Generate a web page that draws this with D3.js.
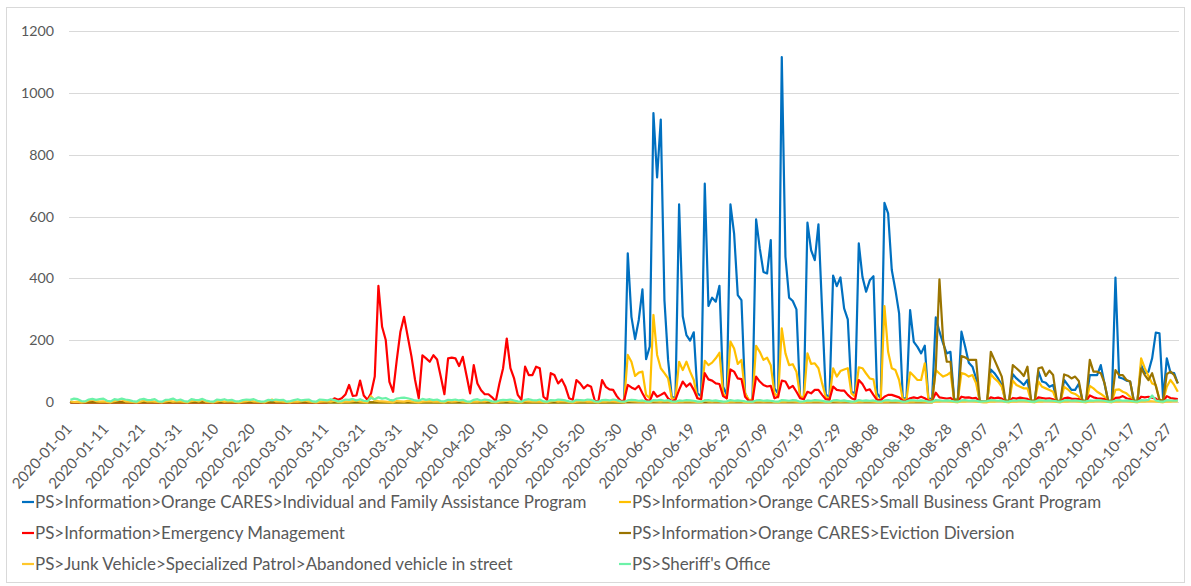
<!DOCTYPE html>
<html>
<head>
<meta charset="utf-8">
<script src="https://cdn.jsdelivr.net/npm/d3@7"></script>
<style>
  body { margin: 0; background: #fff; }
  text { font-family: Lato, "Open Sans", sans-serif; fill: #595959; }
</style>
</head>
<body>
<script>
function zeros(n) { var a = []; for (var i = 0; i < n; i++) a.push(0); return a; }

// daily categories 2020-01-01 .. 2020-10-29
var days = d3.timeDay.range(new Date(2020, 0, 1), new Date(2020, 9, 30));
var yTicks = [0, 200, 400, 600, 800, 1000, 1200];

var seriesNames = [
  "PS>Information>Orange CARES>Individual and Family Assistance Program",
  "PS>Information>Orange CARES>Small Business Grant Program",
  "PS>Information>Emergency Management",
  "PS>Information>Orange CARES>Eviction Diversion",
  "PS>Junk Vehicle>Specialized Patrol>Abandoned vehicle in street",
  "PS>Sheriff's Office"
];
var seriesColors = ["#0070C0", "#FFC000", "#FF0000", "#9A7400", "#FFC72C", "#6CF2A8"];

// Individual and Family Assistance (starts 2020-06-01)
var ifap = zeros(152).concat([
  481, 276, 204, 266, 365, 139, 180, 934, 726, 913, 330, 137, 18, 13,
  639, 278, 217, 199, 226, 29, 20, 706, 311, 338, 325, 376, 50, 24,
  639, 545, 346, 330, 29, 5, 5, 591, 497, 421, 416, 524, 45, 29,
  1115, 470, 338, 327, 300, 18, 10, 580, 491, 459, 575, 298, 27, 11,
  409, 375, 403, 303, 268, 34, 29, 513, 405, 357, 394, 407, 29, 13,
  644, 610, 427, 362, 287, 13, 13, 298, 195, 179, 158, 183, 10, 13,
  274, 228, 190, 158, 163, 10, 7, 228, 180, 128, 115, 77, 2, 2,
  2, 106, 94, 77, 56, 5, 5, 91, 77, 67, 56, 72, 5, 5,
  99, 67, 63, 50, 56, 5, 2, 72, 56, 40, 40, 60, 5, 5,
  88, 88, 88, 120, 61, 5, 5, 403, 80, 77, 70, 67, 5, 5,
  120, 94, 99, 142, 225, 223, 10, 142, 96, 94, 61
]);

// Small Business Grant
var sbg = zeros(152).concat([
  153, 131, 85, 96, 99, 24, 13, 282, 153, 110, 94, 77, 13, 10,
  131, 104, 131, 99, 72, 13, 10, 134, 120, 128, 142, 160, 29, 13,
  196, 174, 124, 137, 29, 8, 8, 182, 163, 137, 144, 120, 29, 16,
  239, 158, 120, 123, 99, 20, 13, 158, 124, 126, 110, 61, 18, 10,
  110, 83, 101, 106, 110, 29, 18, 113, 110, 93, 77, 74, 10, 7,
  311, 163, 110, 104, 72, 10, 7, 97, 85, 72, 72, 126, 7, 7,
  104, 93, 83, 88, 97, 7, 7, 94, 91, 83, 88, 61, 3, 3,
  3, 91, 77, 67, 50, 5, 5, 70, 56, 50, 45, 45, 5, 5,
  67, 50, 45, 40, 34, 3, 3, 50, 42, 31, 27, 18, 3, 3,
  53, 45, 34, 27, 18, 3, 3, 40, 42, 34, 29, 18, 3, 3,
  142, 110, 85, 61, 56, 8, 5, 50, 72, 56, 34
]);

// Emergency Management (starts 2020-03-12)
var emergency = zeros(71).concat([
  3, 13, 8, 13, 25, 56, 21, 22, 70, 22, 8, 29, 83, 376,
  244, 201, 66, 34, 136, 228, 276, 212, 149, 72, 13, 152, 142, 131,
  152, 138, 83, 26, 142, 144, 142, 117, 147, 88, 29, 120, 61, 39,
  26, 26, 16, 3, 61, 110, 206, 110, 77, 24, 8, 115, 88, 88,
  115, 110, 18, 8, 94, 88, 61, 74, 50, 13, 8, 72, 61, 45,
  56, 50, 5, 4, 72, 50, 42, 40, 20, 5, 5, 56, 48, 42,
  53, 29, 8, 4, 34, 18, 24, 31, 13, 4, 8, 40, 67, 51,
  61, 40, 13, 10, 94, 74, 70, 61, 59, 20, 13, 106, 99, 77,
  75, 18, 5, 5, 83, 67, 56, 51, 53, 13, 18, 70, 67, 45,
  53, 34, 13, 10, 34, 29, 40, 40, 24, 10, 8, 51, 40, 38,
  38, 24, 13, 8, 72, 59, 38, 42, 24, 7, 7, 18, 24, 24,
  20, 16, 5, 5, 13, 16, 13, 18, 13, 5, 5, 31, 16, 14,
  12, 14, 5, 4, 18, 15, 16, 13, 14, 3, 3, 3, 16, 13,
  15, 12, 4, 3, 14, 12, 15, 13, 11, 3, 3, 16, 14, 12,
  13, 10, 3, 3, 13, 15, 12, 11, 10, 3, 3, 22, 16, 13,
  12, 10, 3, 3, 14, 15, 20, 13, 10, 3, 3, 18, 16, 18,
  15, 12, 3, 3, 20, 14, 12, 10
]);

// Eviction Diversion (starts 2020-08-24)
var eviction = zeros(236).concat([
  110, 397, 201, 131, 131, 10, 7, 149, 145, 137, 137, 137, 2, 2,
  2, 163, 137, 110, 83, 5, 5, 120, 110, 99, 85, 115, 5, 5,
  110, 113, 85, 102, 88, 5, 5, 90, 86, 77, 83, 69, 5, 5,
  137, 99, 99, 94, 63, 5, 5, 104, 88, 88, 72, 67, 5, 5,
  110, 88, 72, 94, 53, 8, 5, 91, 99, 88, 61
]);

// Junk Vehicle > Abandoned vehicle in street
var junk = [
  3, 1, 2, 0, 1, 6, 8, 4, 2, 3,  1, 0, 4, 7, 9, 3, 2, 1, 0, 2,
  6, 3, 4, 2, 1, 0, 3, 5, 2, 4,  3, 1, 0, 4, 6, 3, 8, 2, 1, 0,
  3, 5, 2, 4, 3, 1, 0, 2, 4, 6,  3, 2, 1, 0, 5, 9, 3, 4, 2, 1,
  0, 3, 2, 4, 6, 3, 1, 0, 2, 3,  4, 2, 5, 1, 0, 3, 2, 4, 6, 3,
  1, 0, 20, 6, 4, 3, 2, 1, 0, 4, 3, 2, 5, 3, 1, 0, 2, 3, 4, 2,
  3, 1, 0, 4, 2, 3, 5, 2, 1, 0,  3, 2, 4, 3, 6, 1, 0, 2, 3, 5,
  2, 3, 1, 0, 4, 3, 2, 3, 2, 1,  0, 3, 5, 2, 4, 3, 1, 0, 2, 3,
  4, 2, 3, 1, 0, 3, 2, 4, 3, 2,  1, 0, 5, 4, 3, 2, 3, 1, 0, 4,
  3, 2, 4, 3, 1, 0, 3, 2, 4, 3,  2, 1, 0, 6, 3, 2, 4, 3, 1, 0,
  3, 2, 4, 3, 0, 0, 1, 4, 3, 2,  3, 4, 1, 0, 3, 2, 4, 3, 2, 1,
  0, 3, 2, 4, 3, 2, 1, 0, 4, 3,  2, 3, 4, 1, 0, 3, 2, 4, 3, 2,
  1, 0, 3, 2, 4, 3, 2, 1, 0, 3,  2, 4, 3, 2, 1, 0, 3, 2, 4, 3,
  2, 1, 0, 3, 2, 4, 3, 2, 1, 0,  0, 3, 2, 4, 3, 1, 0, 3, 2, 4,
  3, 2, 1, 0, 3, 2, 4, 3, 2, 1,  0, 3, 2, 4, 3, 2, 1, 0, 3, 2,
  4, 3, 2, 1, 0, 3, 2, 4, 3, 2,  1, 0, 3, 2, 4, 3, 2, 1, 0, 3,
  2, 4, 3
];

// Sheriff's Office
var sheriff = [
  8, 12, 10, 4, 3, 9, 11, 8, 10, 12,  5, 3, 10, 8, 12, 9, 7, 4, 2, 9,
  11, 7, 8, 10, 3, 2, 8, 9, 12, 6,  9, 4, 2, 10, 8, 7, 11, 6, 3, 2,
  9, 7, 10, 6, 8, 3, 3, 7, 9, 8,  10, 5, 2, 3, 8, 6, 9, 7, 8, 2,
  4, 7, 10, 6, 8, 9, 3, 2, 9, 8,  6, 10, 7, 3, 4, 9, 8, 11, 6, 10,
  5, 4, 14, 10, 16, 12, 14, 8, 6, 12,  14, 15, 13, 10, 6, 5, 11, 8, 10, 7,
  9, 4, 3, 8, 7, 9, 6, 8, 3, 2,  8, 10, 6, 9, 7, 3, 2, 6, 8, 7,
  9, 6, 3, 2, 8, 10, 7, 6, 9, 3,  2, 7, 6, 9, 8, 6, 3, 2, 8, 7,
  6, 9, 8, 3, 2, 7, 8, 6, 9, 7,  3, 2, 6, 8, 7, 5, 6, 3, 2, 7,
  6, 8, 5, 7, 3, 2, 6, 5, 7, 6,  5, 2, 2, 6, 7, 5, 6, 4, 2, 3,
  7, 5, 6, 5, 3, 2, 2, 6, 7, 5,  6, 5, 3, 2, 7, 6, 5, 7, 6, 2,
  3, 6, 5, 7, 6, 5, 2, 2, 6, 7,  5, 6, 4, 2, 3, 7, 5, 6, 5, 6,
  3, 2, 6, 7, 5, 6, 5, 2, 3, 7,  6, 5, 6, 5, 2, 2, 7, 6, 5, 6,
  5, 3, 2, 6, 7, 5, 6, 5, 2, 3,  4, 7, 6, 5, 6, 2, 3, 6, 5, 7,
  6, 5, 2, 2, 7, 6, 5, 6, 5, 3,  2, 6, 7, 5, 6, 5, 2, 3, 6, 5,
  7, 6, 5, 2, 2, 6, 7, 5, 6, 5,  3, 2, 7, 6, 8, 22, 6, 3, 2, 7,
  6, 5, 6
];

var seriesValues = [ifap, sbg, emergency, eviction, junk, sheriff];

var width = 1191, height = 586;
var fmt = d3.timeFormat("%Y-%m-%d");
var labels = days.map(fmt);

var svg = d3.select("body")
  .append("svg")
  .attr("width", width)
  .attr("height", height);

// chart border
svg.append("rect")
  .attr("x", 6.5).attr("y", 7.5)
  .attr("width", 1178).attr("height", 575)
  .attr("fill", "#fff")
  .attr("stroke", "#D9D9D9");

var x = d3.scalePoint().domain(labels).range([70.4, 1177.8]);
var y = d3.scaleLinear().domain([0, 1200]).range([402.3, 30.7]);

// fit a font size so a sample string gets a given pixel width
function fitSize(sel, target) {
  sel.style("font-size", "16px");
  var w = sel.node().getComputedTextLength();
  var s = 16 * target / w;
  sel.style("font-size", s + "px");
}

// gridlines
svg.append("g")
  .selectAll("line")
  .data(yTicks)
  .enter()
  .append("line")
  .attr("x1", 69).attr("x2", 1179)
  .attr("y1", function(d) { return Math.round(y(d)) + 0.5; })
  .attr("y2", function(d) { return Math.round(y(d)) + 0.5; })
  .attr("stroke", "#D9D9D9")
  .attr("stroke-width", 1);

// y axis labels
var yAxis = svg.append("g")
  .attr("transform", "translate(54,0)")
  .call(d3.axisLeft(y).tickValues(yTicks).tickFormat(d3.format("d")).tickSize(0).tickPadding(0));
yAxis.select(".domain").remove();
yAxis.selectAll("text").attr("fill", "#595959");
var yLast = yAxis.selectAll("text").filter(function(d) { return d === 1200; });
fitSize(yLast, 33);
yAxis.selectAll("text").style("font-size", yLast.style("font-size"));

// x axis labels, one every 10 days
var xTickLabels = labels.filter(function(d, i) { return i % 10 === 0; });
var xAxis = svg.append("g")
  .attr("transform", "translate(0,402)")
  .call(d3.axisBottom(x).tickValues(xTickLabels).tickSize(0).tickPadding(0));
xAxis.select(".domain").remove();
var xText = xAxis.selectAll("text")
  .attr("fill", "#595959")
  .attr("text-anchor", "end")
  .attr("y", 0)
  .attr("dy", "0.35em")
  .attr("transform", "translate(-2,24) rotate(-48)");
fitSize(d3.select(xText.node()), 81);
xText.style("font-size", d3.select(xText.node()).style("font-size"));

// lines
var line = d3.line()
  .x(function(d, i) { return x(labels[i]); })
  .y(function(d) { return y(d); });

svg.append("g")
  .selectAll("path")
  .data(seriesValues)
  .enter()
  .append("path")
  .attr("d", line)
  .attr("fill", "none")
  .attr("stroke", function(d, i) { return seriesColors[i]; })
  .attr("stroke-width", 2.2)
  .attr("stroke-linejoin", "round");

// legend: two columns, row-major
var legend = svg.append("g")
  .selectAll("g")
  .data(seriesNames)
  .enter()
  .append("g")
  .attr("transform", function(d, i) {
    var col = i % 2, row = Math.floor(i / 2);
    return "translate(" + (col === 0 ? 22 : 619) + "," + (502 + row * 31) + ")";
  });

legend.append("line")
  .attr("x1", 0).attr("x2", 12)
  .attr("stroke", function(d, i) { return seriesColors[i]; })
  .attr("stroke-width", 2.2);

var legendText = legend.append("text")
  .attr("x", 13)
  .attr("dy", "0.35em")
  .text(function(d) { return d; });

// fit legend font to the reference text width
fitSize(d3.select(legendText.node()), 552);
legendText.style("font-size", d3.select(legendText.node()).style("font-size"));
</script>
</body>
</html>
